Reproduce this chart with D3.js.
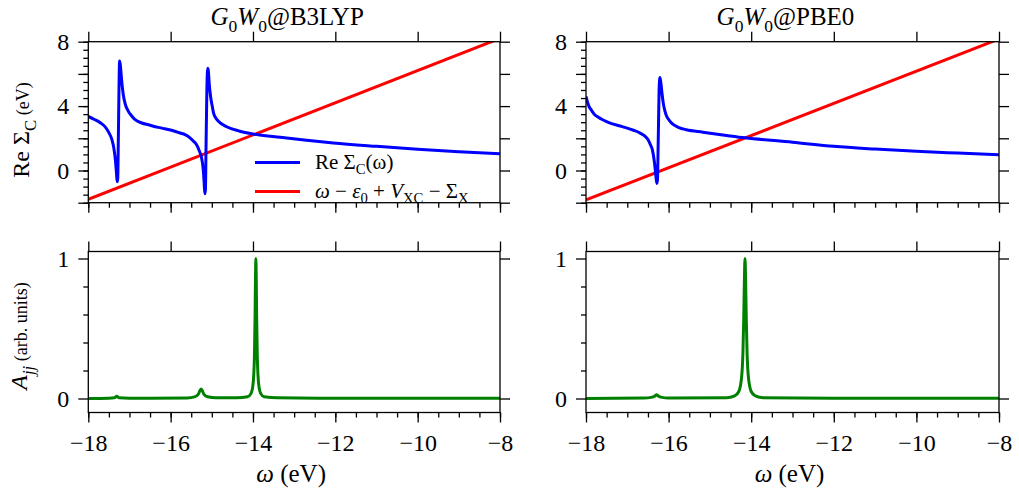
<!DOCTYPE html>
<html>
<head>
<meta charset="utf-8">
<script src="https://cdn.jsdelivr.net/npm/d3@7"></script>
<style>
  body { margin: 0; background: #fff; }
</style>
</head>
<body>
<svg id="chart" width="1019" height="493"></svg>
<script>
// values
var omegaTicks = [-18, -16, -14, -12, -10, -8];
var sigmaTicksLabeled = [0, 4, 8];
var specTicksLabeled = [0, 1];
var methods = ['B3LYP', 'PBE0'];

// Re Sigma_c(omega), [omega, eV]
var sigmaB3LYP = [
  [-18, 3.36], [-17.85, 3.17], [-17.7, 2.95], [-17.59, 2.71], [-17.5, 2.35], [-17.43, 1.95],
  [-17.38, 1.4], [-17.34, 0.6], [-17.315, -0.2], [-17.3, -0.7], [-17.285, -0.5], [-17.27, 2.0],
  [-17.255, 5.0], [-17.24, 6.8], [-17.225, 6.6], [-17.19, 5.6], [-17.15, 4.7], [-17.1, 4.1],
  [-17.03, 3.69], [-16.95, 3.4], [-16.87, 3.17], [-16.7, 2.95], [-16.54, 2.84], [-16.3, 2.68],
  [-16.14, 2.59], [-15.9, 2.44], [-15.77, 2.33], [-15.65, 2.23], [-15.53, 2.03], [-15.45, 1.83],
  [-15.37, 1.6], [-15.3, 1.2], [-15.25, 0.8], [-15.21, 0.1], [-15.185, -0.8], [-15.17, -1.45],
  [-15.155, -1.2], [-15.14, 1.5], [-15.12, 5.0], [-15.1, 6.35], [-15.085, 6.2], [-15.06, 5.3],
  [-15.03, 4.6], [-14.99, 4.0], [-14.96, 3.6], [-14.9, 3.25], [-14.84, 3.06], [-14.64, 2.72],
  [-14.32, 2.44], [-13.91, 2.23], [-13.34, 2.06], [-12.7, 1.88], [-12.05, 1.71], [-11, 1.5],
  [-10, 1.32], [-9, 1.17], [-8, 1.04]
];
var sigmaPBE0 = [
  [-18, 4.6], [-17.97, 4.3], [-17.93, 4.0], [-17.87, 3.75], [-17.8, 3.5], [-17.71, 3.32],
  [-17.57, 3.12], [-17.43, 2.96], [-17.2, 2.78], [-17.02, 2.65], [-16.85, 2.5], [-16.7, 2.34],
  [-16.58, 2.15], [-16.5, 1.92], [-16.44, 1.6], [-16.39, 1.25], [-16.34, 0.45], [-16.31, -0.3],
  [-16.285, -0.8], [-16.27, -0.6], [-16.25, 2.0], [-16.23, 5.0], [-16.21, 5.78], [-16.19, 5.5],
  [-16.16, 4.8], [-16.13, 4.2], [-16.09, 3.7], [-16.06, 3.45], [-15.98, 3.1], [-15.89, 2.86],
  [-15.75, 2.66], [-15.57, 2.53], [-15.17, 2.38], [-14.6, 2.18], [-14.15, 2.03], [-13, 1.76],
  [-12, 1.5], [-11, 1.33], [-10, 1.19], [-9, 1.08], [-8, 0.98]
];

// omega - eps0 + Vxc - Sigma_x (straight line)
var lineB3LYP = [[-18, -1.79], [-8, 8.21]];
var linePBE0 = [[-18, -1.83], [-8, 8.17]];

// spectral function A_jj, arb. units
var specB3LYP = [
  [-18, 0], [-17.5, 0.002], [-17.37, 0.005], [-17.31, 0.016], [-17.25, 0.005], [-17, 0.002],
  [-15.6, 0.004], [-15.42, 0.012], [-15.33, 0.03], [-15.285, 0.058], [-15.26, 0.068],
  [-15.235, 0.058], [-15.19, 0.03], [-15.1, 0.012], [-14.9, 0.005], [-14.4, 0.006],
  [-14.13, 0.013], [-14.05, 0.035], [-14.01, 0.076], [-13.98, 0.175], [-13.965, 0.3],
  [-13.95, 0.57], [-13.94, 0.84], [-13.93, 1.0], [-13.92, 0.84], [-13.91, 0.57],
  [-13.895, 0.3], [-13.88, 0.175], [-13.85, 0.076], [-13.81, 0.035], [-13.73, 0.013],
  [-13.4, 0.005], [-12, 0.002], [-8, 0.001]
];
var specPBE0 = [
  [-18, 0], [-16.6, 0.003], [-16.42, 0.008], [-16.33, 0.018], [-16.29, 0.027], [-16.25, 0.018],
  [-16.16, 0.008], [-16.0, 0.003], [-14.6, 0.006], [-14.4, 0.019], [-14.3, 0.05], [-14.23, 0.16],
  [-14.2, 0.33], [-14.18, 0.58], [-14.165, 0.84], [-14.15, 1.0], [-14.135, 0.84], [-14.12, 0.58],
  [-14.1, 0.33], [-14.07, 0.16], [-14.0, 0.05], [-13.9, 0.019], [-13.7, 0.006], [-12, 0.002],
  [-8, 0.001]
];

var sigmaSeries = [sigmaB3LYP, sigmaPBE0];
var lineSeries = [lineB3LYP, linePBE0];
var specSeries = [specB3LYP, specPBE0];

// layout (pixels)
var cols = [{x0: 88.3, x1: 500}, {x0: 586, x1: 999}];
var rows = [{y0: 41.7, y1: 202.7}, {y0: 251.5, y1: 412.5}];
var FONT = "'Liberation Serif'";
var svg = d3.select('#chart');

function addText(x, y, size){
  return svg.append('text').attr('x', x).attr('y', y)
    .style('font-family', FONT).style('font-size', size + 'px').attr('fill', '#000');
}

// writes mixed italic / subscript text into a <text>
function rich(t, parts, size){
  var shift = 0;
  parts.forEach(function(p){
    var st = p[1] || '';
    var want = st.indexOf('sub') >= 0 ? size * 0.28 : 0;
    var s = t.append('tspan').text(p[0]);
    if(want !== shift){ s.attr('dy', want - shift); shift = want; }
    if(st.indexOf('i') >= 0) s.style('font-style', 'italic');
    if(st.indexOf('sub') >= 0) s.style('font-size', (size * 0.7) + 'px');
    if(st.indexOf('small') >= 0) s.style('font-size', (size * 0.75) + 'px');
  });
}

function frameAndAxes(g, x, y, opt){
  var c = opt.col, r = opt.row;
  // minor ticks
  g.append('g').attr('transform', 'translate(0,' + r.y1 + ')')
    .call(d3.axisBottom(x).tickValues(d3.range(-18, -7.9, 0.5)).tickSize(5).tickFormat(''));
  g.append('g').attr('transform', 'translate(' + c.x0 + ',0)')
    .call(d3.axisLeft(y).tickValues(opt.yMinor).tickSize(5).tickFormat(''));

  // major ticks
  var xb = d3.axisBottom(x).tickValues(omegaTicks).tickSize(10).tickPadding(11);
  if(opt.xLabels) xb.tickFormat(function(d){ return d < 0 ? '\u2212' + (-d) : d; });
  else xb.tickFormat('');
  g.append('g').attr('transform', 'translate(0,' + r.y1 + ')').call(xb);
  g.append('g').attr('transform', 'translate(0,' + r.y0 + ')')
    .call(d3.axisTop(x).tickValues(omegaTicks).tickSize(10).tickFormat(''));
  g.append('g').attr('transform', 'translate(' + c.x0 + ',0)')
    .call(d3.axisLeft(y).tickValues(opt.yMajor).tickSize(10).tickPadding(9)
      .tickFormat(function(d){ return opt.yLabeled.indexOf(d) >= 0 ? d : ''; }));
  g.append('g').attr('transform', 'translate(' + c.x1 + ',0)')
    .call(d3.axisRight(y).tickValues(opt.yMajor).tickSize(10).tickFormat(''));

  g.selectAll('.domain').remove();
  // drop empty tick labels
  g.selectAll('.tick text').filter(function(){ return this.textContent === ''; }).remove();
  g.selectAll('.tick line').attr('stroke', '#000').attr('stroke-width', 1.3);
  g.selectAll('.tick text').style('font-family', FONT)
    .style('font-size', '24px').attr('fill', '#000');

  g.append('rect')
    .attr('x', c.x0).attr('y', r.y0)
    .attr('width', c.x1 - c.x0).attr('height', r.y1 - r.y0)
    .attr('fill', 'none').attr('stroke', '#000').attr('stroke-width', 1.3);
}

methods.forEach(function(m, i){
  var c = cols[i];
  var x = d3.scaleLinear().domain([-18, -8]).range([c.x0, c.x1]);

  // ---- top panel: Re Sigma_c
  var r = rows[0];
  var y = d3.scaleLinear().domain([-2, 8]).range([r.y1, r.y0]);
  var g = svg.append('g');
  var clipId = 'clipTop' + i;
  g.append('clipPath').attr('id', clipId).append('rect')
    .attr('x', c.x0).attr('y', r.y0).attr('width', c.x1 - c.x0).attr('height', r.y1 - r.y0);

  var line = d3.line().x(function(d){ return x(d[0]); }).y(function(d){ return y(d[1]); })
    .curve(d3.curveMonotoneX);

  g.append('path').datum(lineSeries[i])
    .attr('clip-path', 'url(#' + clipId + ')')
    .attr('d', d3.line().x(function(d){ return x(d[0]); }).y(function(d){ return y(d[1]); }))
    .attr('fill', 'none').attr('stroke', '#ff0000').attr('stroke-width', 3);
  g.append('path').datum(sigmaSeries[i])
    .attr('clip-path', 'url(#' + clipId + ')')
    .attr('d', line)
    .attr('fill', 'none').attr('stroke', '#0000ff').attr('stroke-width', 3)
    .attr('stroke-linejoin', 'round');

  frameAndAxes(g, x, y, {col: c, row: r, xLabels: false,
    yMajor: [-2, 0, 2, 4, 6, 8], yMinor: d3.range(-2, 8.01, 0.5), yLabeled: sigmaTicksLabeled});

  // title
  var t = addText((c.x0 + c.x1) / 2 - 7, 25, 25).attr('text-anchor', 'middle');
  rich(t, [['G', 'i'], ['0', 'sub'], ['W', 'i'], ['0', 'sub'], ['@' + m]], 25);

  // ---- bottom panel: spectral function
  var r2 = rows[1];
  var y2 = d3.scaleLinear().domain([-0.1, 1.05]).range([r2.y1, r2.y0]);
  var g2 = svg.append('g');
  var clipId2 = 'clipBot' + i;
  g2.append('clipPath').attr('id', clipId2).append('rect')
    .attr('x', c.x0).attr('y', r2.y0).attr('width', c.x1 - c.x0).attr('height', r2.y1 - r2.y0);
  g2.append('path').datum(specSeries[i])
    .attr('clip-path', 'url(#' + clipId2 + ')')
    .attr('d', d3.line().x(function(d){ return x(d[0]); }).y(function(d){ return y2(d[1]); })
      .curve(d3.curveMonotoneX))
    .attr('fill', 'none').attr('stroke', '#008000').attr('stroke-width', 3)
    .attr('stroke-linejoin', 'round');

  frameAndAxes(g2, x, y2, {col: c, row: r2, xLabels: true,
    yMajor: [0, 1], yMinor: [0.2, 0.4, 0.6, 0.8], yLabeled: specTicksLabeled});

  // x label
  var xl = addText((c.x0 + c.x1) / 2 - 3, 482, 25).attr('text-anchor', 'middle');
  rich(xl, [['\u03c9', 'i'], [' (eV)']], 25);
});

// y labels (left column only)
var yl1 = addText(0, 0, 24).attr('transform', 'translate(29,130) rotate(-90)')
  .attr('text-anchor', 'middle');
rich(yl1, [['Re \u03a3'], ['C', 'sub'], [' (eV)', 'small']], 24);

var yl2 = addText(0, 0, 24).attr('transform', 'translate(27,336) rotate(-90)')
  .attr('text-anchor', 'middle');
rich(yl2, [['A', 'i'], ['jj', 'isub'], [' (arb. units)', 'small']], 24);

// legend in the top-left panel
var legend = [
  {color: '#0000ff', parts: [['Re \u03a3'], ['C', 'sub'], ['(\u03c9)']]},
  {color: '#ff0000', parts: [['\u03c9', 'i'], [' \u2212 '], ['\u03b5', 'i'], ['0', 'sub'], [' + '],
    ['V', 'i'], ['XC', 'sub'], [' \u2212 \u03a3'], ['X', 'sub']]}
];
legend.forEach(function(d, k){
  var ly = 162.5 + k * 29;
  svg.append('line').attr('x1', 255).attr('x2', 300).attr('y1', ly).attr('y2', ly)
    .attr('stroke', d.color).attr('stroke-width', 3);
  var tx = addText(315, ly + 6, 21);
  rich(tx, d.parts, 21);
});
</script>
</body>
</html>
